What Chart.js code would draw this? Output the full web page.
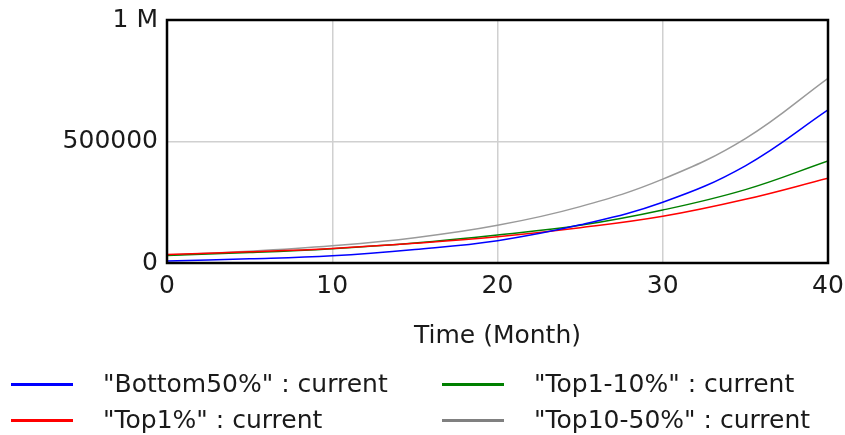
<!DOCTYPE html>
<html>
<head>
<meta charset="utf-8">
<script src="https://cdn.jsdelivr.net/npm/chart.js@4"></script>
<style>
  body { margin: 0; background: #fff; }
  #wrap { position: relative; width: 845px; height: 435px; }
  #legend {
    position: absolute; left: 0; top: 366px; width: 845px;
    font-family: "DejaVu Sans", sans-serif; font-size: 25px; color: #1a1a1a;
  }
  .item { position: absolute; height: 36px; line-height: 36px; white-space: nowrap; }
  .item .swatch { position: absolute; top: 17px; width: 62px; height: 3px; }
  .item .txt { position: absolute; }
</style>
</head>
<body>
<div id="wrap">
  <canvas id="chart" width="845" height="435"></canvas>
  <div id="legend"></div>
</div>
<script>
// months sampled every 5
const months = [0, 5, 10, 15, 20, 25, 30, 35, 40];

const bottom50 = [8000, 17000, 30000, 56000, 92000, 157000, 250000, 400000, 630000];
const top1 = [35000, 46000, 60000, 81000, 108000, 145000, 192000, 262000, 349000];
const top1to10 = [31000, 43000, 59000, 82000, 115000, 155000, 218000, 302000, 420000];
const top10to50 = [33000, 48500, 71000, 104000, 155000, 232000, 345000, 512000, 760000];

const xTicks = [0, 10, 20, 30, 40];
const yTicks = [0, 500000, 1000000];

const series = [
  { label: '"Bottom50%" : current', data: bottom50, color: "#0000ff", key: "#0000ff" },
  { label: '"Top1%" : current', data: top1, color: "#ff0000", key: "#ff0000" },
  { label: '"Top1-10%" : current', data: top1to10, color: "#008000", key: "#008000" },
  { label: '"Top10-50%" : current', data: top10to50, color: "#9a9a9a", key: "#808080" }
];

const FONT = "'DejaVu Sans', sans-serif";
const TEXT = "#1a1a1a";

// frame around the plot area
const framePlugin = {
  id: "frame",
  afterDatasetsDraw(chart) {
    const a = chart.chartArea;
    const ctx = chart.ctx;
    ctx.save();
    ctx.strokeStyle = "#000";
    ctx.lineWidth = 2.5;
    ctx.strokeRect(a.left, a.top, a.right - a.left, a.bottom - a.top);
    ctx.restore();
  }
};

new Chart(document.getElementById("chart"), {
  type: "line",
  data: {
    datasets: series.map(s => ({
      label: s.label,
      data: months.map((m, i) => ({ x: m, y: s.data[i] })),
      borderColor: s.color,
      borderWidth: 1.5,
      pointRadius: 0,
      fill: false,
      tension: 0.4
    }))
  },
  options: {
    responsive: false,
    animation: false,
    layout: { padding: { top: 20, right: 17, bottom: 82, left: 0 } },
    plugins: { legend: { display: false }, tooltip: { enabled: false } },
    scales: {
      x: {
        type: "linear",
        min: 0, max: 40,
        afterBuildTicks: sc => { sc.ticks = xTicks.map(v => ({ value: v })); },
        afterFit: sc => { sc.height = 90; sc.paddingLeft = 0; sc.paddingRight = 0; },
        grid: { color: "#d0d0d0", lineWidth: 1.5, drawTicks: false },
        border: { display: false },
        ticks: { color: TEXT, font: { family: FONT, size: 25 }, padding: 8, maxRotation: 0 },
        title: {
          display: true, text: "Time (Month)", color: TEXT,
          font: { family: FONT, size: 25 }, padding: { top: 0, bottom: 2 }
        }
      },
      y: {
        type: "linear",
        min: 0, max: 1000000,
        afterBuildTicks: sc => { sc.ticks = yTicks.map(v => ({ value: v })); },
        afterFit: sc => { sc.width = 167; sc.paddingTop = 0; sc.paddingBottom = 0; },
        grid: { color: "#d0d0d0", lineWidth: 1.5, drawTicks: false },
        border: { display: false },
        ticks: {
          color: TEXT, font: { family: FONT, size: 25 }, padding: 9,
          callback: v => v === 1000000 ? "1 M" : String(v)
        }
      }
    }
  },
  plugins: [framePlugin]
});

// legend, two columns
const legendPos = [
  { left: 11, top: 0 }, { left: 11, top: 36 },
  { left: 442, top: 0 }, { left: 442, top: 36 }
];
const legend = document.getElementById("legend");
series.forEach((s, n) => {
  const p = legendPos[n];
  const el = document.createElement("div");
  el.className = "item";
  el.style.left = p.left + "px";
  el.style.top = p.top + "px";
  el.innerHTML = '<span class="swatch" style="background:' + s.key + '"></span>' +
    '<span class="txt" style="left:92px"></span>';
  el.querySelector(".txt").textContent = s.label;
  legend.appendChild(el);
});
</script>
</body>
</html>
